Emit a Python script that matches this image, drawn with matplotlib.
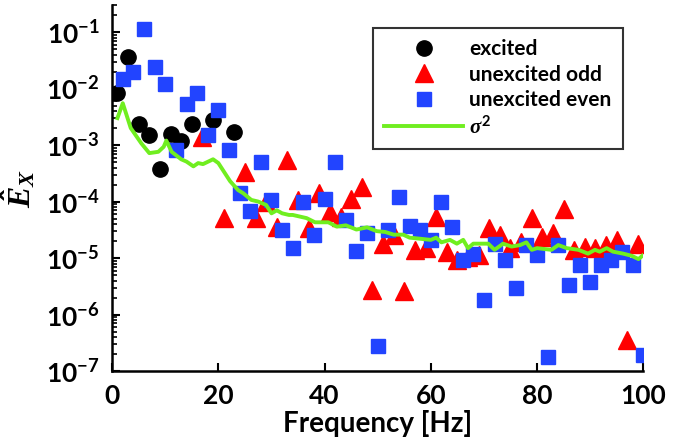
# Power spectrum plot: excited vs unexcited frequencies
import numpy as np
import matplotlib
matplotlib.use('Agg')
import matplotlib.pyplot as plt
from matplotlib.ticker import LogLocator, NullFormatter

plt.rcParams['font.family'] = ['Lato', 'DejaVu Sans']
plt.rcParams['font.weight'] = 'bold'
plt.rcParams['mathtext.fontset'] = 'custom'
plt.rcParams['mathtext.rm'] = 'Lato:bold'
plt.rcParams['mathtext.bf'] = 'Lato:bold'
plt.rcParams['mathtext.it'] = 'Liberation Serif:italic:bold'

# excited (black circles)
exc_f = [1, 3, 5, 7, 9, 11, 13, 15, 19, 23]
exc_v = [8.3e-3, 3.6e-2, 2.4e-3, 1.5e-3, 3.8e-4, 1.6e-3, 1.2e-3, 2.4e-3, 2.8e-3, 1.7e-3]

# unexcited odd (red triangles)
odd_f = [17, 21, 25, 27, 29, 31, 33, 35, 37, 39, 41, 43, 45, 47, 49, 51, 53, 55, 57, 59,
         61, 63, 65, 67, 69, 71, 73, 75, 77, 79, 81, 83, 85, 87, 89, 91, 93, 95, 97, 99]
odd_v = [1.4e-3, 5.1e-5, 3.4e-4, 5.1e-5, 1.0e-4, 3.6e-5, 5.5e-4, 1.07e-4, 3.4e-5, 1.4e-4,
         6.6e-5, 5.4e-5, 1.1e-4, 1.8e-4, 2.7e-6, 1.8e-5, 2.6e-5, 2.6e-6, 1.4e-5, 1.5e-5,
         5.4e-5, 1.3e-5, 9.3e-6, 1.05e-5, 1.15e-5, 3.4e-5, 2.6e-5, 1.5e-5, 1.9e-5, 5.1e-5,
         2.4e-5, 2.75e-5, 7.4e-5, 1.4e-5, 1.6e-5, 1.5e-5, 1.7e-5, 2.1e-5, 3.5e-7, 1.8e-5]

# unexcited even (blue squares)
even_f = list(range(2, 101, 2))
even_v = [1.5e-2, 1.95e-2, 0.114, 2.4e-2, 1.2e-2, 8.3e-4, 5.3e-3, 8.3e-3, 1.5e-3, 4.2e-3,
          8.3e-4, 1.4e-4, 6.9e-5, 5.1e-4, 1.05e-4, 3.2e-5, 1.5e-5, 1.0e-4, 2.6e-5, 1.1e-4,
          5.1e-4, 4.8e-5, 1.35e-5, 2.75e-5, 2.8e-7, 3.2e-5, 1.2e-4, 3.7e-5, 3.2e-5, 2.1e-5,
          1.0e-4, 3.5e-5, 9.3e-6, 1.2e-5, 1.8e-6, 1.8e-5, 9.3e-6, 2.9e-6, 1.7e-5, 1.15e-5,
          1.8e-7, 1.7e-5, 3.4e-6, 7.6e-6, 3.7e-6, 7.6e-6, 9.3e-6, 1.3e-5, 7.6e-6, 1.95e-7]

# sigma^2 (green line)
sig_f = [1, 2, 3.5, 5.5, 7, 8.7, 9.7, 10.2, 11.2, 13, 14, 15.3, 16.2, 17.1, 19, 20, 22.2,
         23.7, 24.7, 26.2, 27.5, 29, 30, 31, 32, 33.3, 34, 36.6, 38.2, 40.7, 42.3, 44, 46,
         48, 49.8, 51.4, 53, 54.8, 56, 58, 60, 61, 62, 63.6, 64.9, 66.1, 67, 68, 70.8, 72,
         73.6, 75.2, 76.8, 78, 79, 80, 82.7, 84, 85.6, 87.8, 89.6, 90.9, 91.8, 93.1, 94.3,
         96.2, 97.8, 99.1, 100.3]
sig_v = [3.0e-3, 5.5e-3, 2.0e-3, 1.07e-3, 7.2e-4, 7.6e-4, 9.3e-4, 1.2e-3, 7.6e-4, 5.6e-4,
         5.1e-4, 4.2e-4, 4.8e-4, 4.6e-4, 5.6e-4, 4.8e-4, 2.3e-4, 1.6e-4, 1.4e-4, 1.07e-4,
         1.0e-4, 8.7e-5, 6.2e-5, 7.0e-5, 6.2e-5, 5.8e-5, 5.8e-5, 5.1e-5, 4.3e-5, 4.3e-5,
         3.6e-5, 3.8e-5, 3.2e-5, 3.5e-5, 3.0e-5, 2.9e-5, 2.6e-5, 2.6e-5, 2.3e-5, 2.2e-5,
         2.1e-5, 2.3e-5, 1.9e-5, 2.1e-5, 1.8e-5, 2.1e-5, 1.5e-5, 1.8e-5, 1.8e-5, 1.4e-5,
         1.8e-5, 1.6e-5, 1.7e-5, 1.9e-5, 1.4e-5, 1.5e-5, 1.4e-5, 1.7e-5, 1.5e-5, 1.4e-5,
         1.2e-5, 1.4e-5, 1.3e-5, 1.5e-5, 1.3e-5, 1.2e-5, 1.1e-5, 9.6e-6, 1.2e-5]

fig = plt.figure(figsize=(6.88, 4.45), dpi=100)
ax = fig.add_axes([0.163, 0.166, 0.772, 0.823])

ax.plot(exc_f, exc_v, 'o', color='black', markersize=11, label='excited', zorder=3)
ax.plot(odd_f, odd_v, '^', color='#ff0000', markersize=13, label='unexcited odd', zorder=3)
ax.plot(even_f, even_v, 's', color='#2244ff', markersize=9.5, label='unexcited even', zorder=3)
ax.plot(sig_f, sig_v, '-', color='#70ee20', linewidth=2.8, label=r'$\sigma^2$', zorder=4)

ax.set_yscale('log')
ax.set_xlim(0, 100)
ax.set_ylim(1e-7, 10**-0.52)
ax.set_xticks([0, 20, 40, 60, 80, 100])
ax.yaxis.set_major_locator(LogLocator(base=10, numticks=10))
ax.yaxis.set_minor_locator(LogLocator(base=10, subs=np.arange(2, 10), numticks=20))
ax.yaxis.set_minor_formatter(NullFormatter())

for s in ['top', 'right']:
    ax.spines[s].set_visible(False)
for s in ['left', 'bottom']:
    ax.spines[s].set_linewidth(1.8)

ax.tick_params(which='major', direction='in', length=6, width=1.5, labelsize=19, pad=9)
ax.tick_params(which='minor', direction='in', length=3.5, width=1.2)

ax.set_xlabel('Frequency [Hz]', fontsize=20, fontweight='bold', labelpad=2)
ax.set_ylabel(r'$\hat{E}_X$', fontsize=23, labelpad=6)

leg = ax.legend(loc='upper right', bbox_to_anchor=(0.962, 0.937), fontsize=15,
                frameon=True, fancybox=False, edgecolor='black', handlelength=3.8,
                labelspacing=0.25, borderpad=0.55, handletextpad=0.3, borderaxespad=0)
leg.get_frame().set_linewidth(1.5)

plt.savefig('out.png', dpi=100)
